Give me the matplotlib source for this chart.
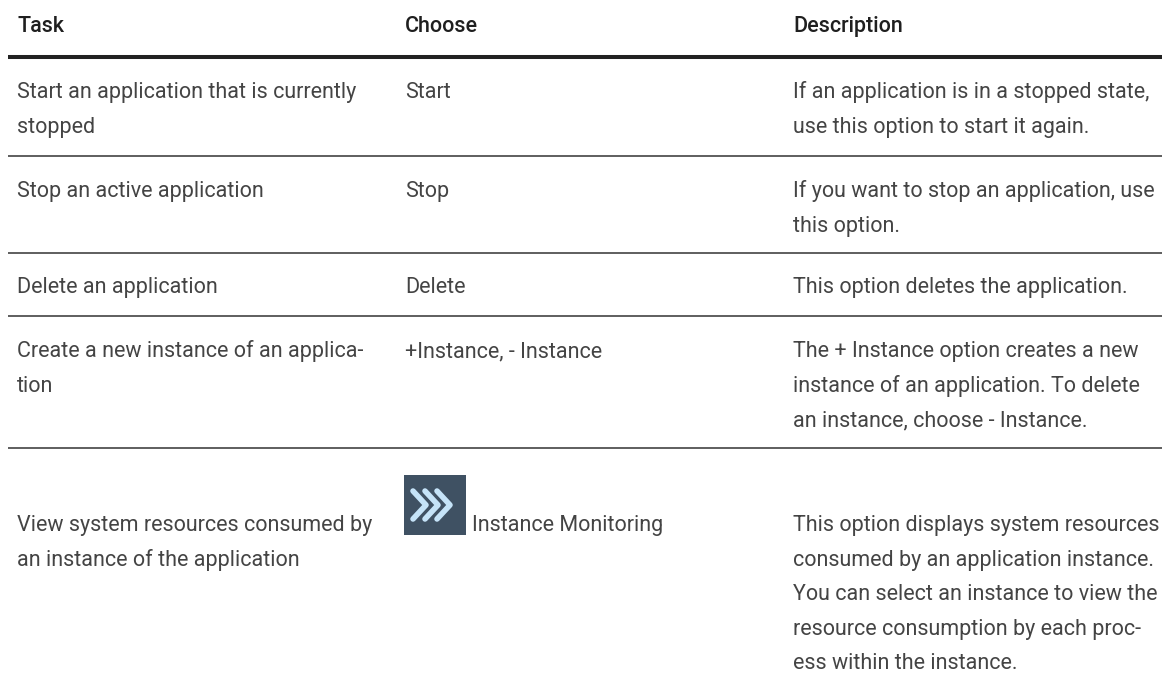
import matplotlib
matplotlib.use('Agg')
from matplotlib import pyplot as plt
from matplotlib.patches import Rectangle

plt.rcParams['font.family'] = ['Roboto', 'DejaVu Sans']

headers = ['Task', 'Choose', 'Description']
tasks = [['Start an application that is currently', 'stopped'],
         ['Stop an active application'],
         ['Delete an application'],
         ['Create a new instance of an applica-', 'tion'],
         ['View system resources consumed by', 'an instance of the application']]
choose = [['Start'], ['Stop'], ['Delete'], ['+Instance, - Instance'], ['Instance Monitoring']]
descriptions = [['If an application is in a stopped state,', 'use this option to start it again.'],
                ['If you want to stop an application, use', 'this option.'],
                ['This option deletes the application.'],
                ['The + Instance option creates a new', 'instance of an application. To delete',
                 'an instance, choose - Instance.'],
                ['This option displays system resources', 'consumed by an application instance.',
                 'You can select an instance to view the', 'resource consumption by each proc-',
                 'ess within the instance.']]

W, H = 1162, 684
FS = 15.5
col_x = [17, 405, 793]
row_base = [98, 197, 293, 357, 531]
row_lines = [156, 253, 316, 448]
step = 34.6

fig = plt.figure(figsize=(W / 100, H / 100), dpi=100)
ax = fig.add_axes([0, 0, 1, 1])
ax.set_xlim(0, W)
ax.set_ylim(H, 0)
ax.axis('off')

for x, t in zip(col_x, headers):
    ax.text(x, 32, t, fontsize=FS, color='#1f1f1f', va='baseline', fontweight='medium')
ax.plot([8, W], [57, 57], color='#222222', lw=2.9, solid_capstyle='butt')
for y in row_lines:
    ax.plot([8, W], [y, y], color='#333333', lw=1.1, solid_capstyle='butt')

for col, x in zip((tasks, choose, descriptions), col_x):
    for i, row in enumerate(col):
        for j, t in enumerate(row):
            xx = x
            if t == 'Instance Monitoring':
                xx = 472
            ax.text(xx, row_base[i] + j * step, t, fontsize=FS, color='#444444', va='baseline')

# the icon in the last row
ax.add_patch(Rectangle((404, 475), 62, 60, facecolor='#3f5163', edgecolor='none'))
for tip in (426, 438, 450):
    ax.plot([tip - 13, tip, tip - 13], [491, 505, 519], color='#c5e3f8', lw=4,
            solid_capstyle='round', solid_joinstyle='round')

fig.savefig('out.png', dpi=100)
